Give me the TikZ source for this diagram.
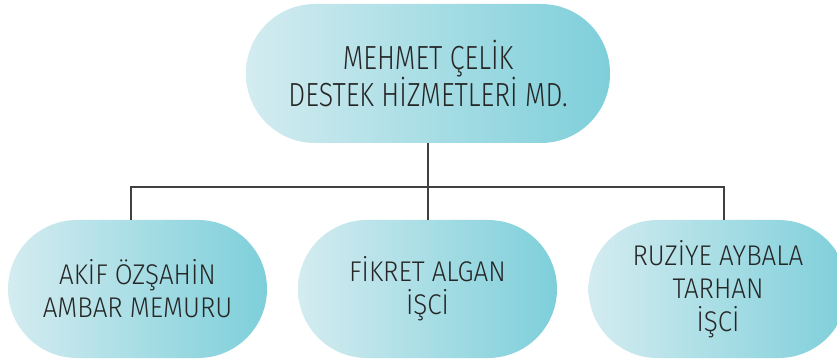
\documentclass[tikz,border=0pt]{standalone}
\usepackage{fontspec}
\setmainfont{Fira Sans Light}
\newfontfamily\topfnt{Fira Sans Light}[FakeStretch=0.80]
\newfontfamily\botfnt{Fira Sans Light}[FakeStretch=0.91]
\usetikzlibrary{calc}
\definecolor{gradL}{HTML}{D3ECF0}
\definecolor{gradR}{HTML}{7ECFDA}
\definecolor{linec}{HTML}{404040}
\definecolor{txtc}{HTML}{262626}
\tikzset{
  pill/.style={shade, left color=gradL, right color=gradR, rounded corners=69pt,
    inner sep=0pt, align=center, text=txtc},
  bigpill/.style={pill, minimum width=364pt, minimum height=139pt,
    font=\topfnt\fontsize{33.4}{31.5}\selectfont},
  smallpill/.style={pill, minimum width=259pt, minimum height=138pt,
    font=\botfnt\fontsize{28.5}{33}\selectfont},
  conn/.style={draw=linec, line width=2pt}
}
\begin{document}
\begin{tikzpicture}[x=1pt,y=-1pt]
\useasboundingbox (0,0) rectangle (837,363);
\node[bigpill] (top) at (428,73.5) {MEHMET ÇELİK\\DESTEK HİZMETLERİ MD.};
\node[smallpill] (a) at (137.5,289) {AKİF ÖZŞAHİN\\AMBAR MEMURU};
\node[smallpill] (b) at (427.5,289) {FİKRET ALGAN\\İŞCİ};
\node[smallpill] (c) at (718,289) {RUZİYE AYBALA\\TARHAN\\İŞCİ};
\coordinate (ja) at (131,187);
\coordinate (jc) at (724,187);
\draw[conn] (top.south) -- (top.south |- ja);
\draw[conn] (a.north -| ja) -- (ja) -- (jc) -- (c.north -| jc);
\draw[conn] (b.north) -- (b.north |- ja);
\end{tikzpicture}
\end{document}
